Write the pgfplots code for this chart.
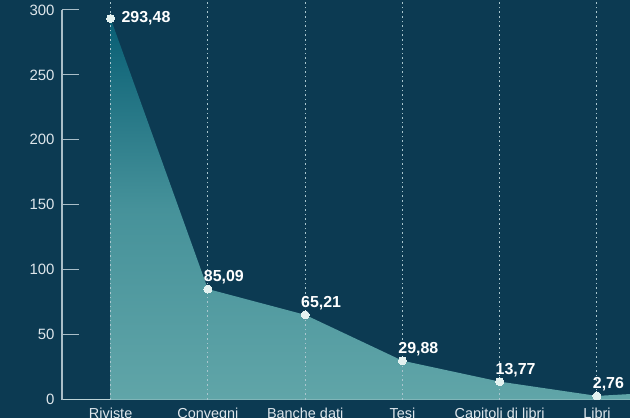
\documentclass[border=0pt]{standalone}
\usepackage{fontspec}
\setmainfont{Liberation Sans}
\usepackage{pgfplots}
\pgfplotsset{compat=1.18}
\definecolor{bg}{RGB}{12,58,82}
\definecolor{topc}{RGB}{8,94,116}
\definecolor{midc}{RGB}{70,146,154}
\definecolor{botc}{RGB}{96,165,168}
\definecolor{axc}{RGB}{170,190,200}
\definecolor{axx}{RGB}{190,212,215}
\definecolor{txt}{RGB}{222,230,235}
\definecolor{ptc}{RGB}{228,242,240}
\definecolor{dotc}{RGB}{170,198,206}
\pgfplotstableread{
x y lab
1 85.09 85,09
2 65.21 65,21
3 29.88 29,88
4 13.77 13,77
5 2.76 2,76
}\pts
\begin{document}
\begin{tikzpicture}
\fill[bg] (-62bp,-18.5bp) rectangle (568bp,399.5bp);
\begin{axis}[
  scale only axis, width=568bp, height=399.5bp,
  xmin=-0.5, xmax=5.34, ymin=0, ymax=307.7,
  clip=false,
  axis x line*=bottom, axis y line*=left,
  x axis line style={draw=axx, line width=1.5bp, -},
  y axis line style={draw=none},
  ytick={0,50,...,300},
  y tick style={draw=axc, line width=1bp},
  major tick length=17bp, tick align=inside,
  xtick={0,...,5}, x tick style={draw=none},
  xticklabels={Riviste,Convegni,Banche dati,Tesi,Capitoli di libri,Libri},
  /pgf/number format/assume math mode=true,
  tick label style={text=txt},
  yticklabel style={font=\fontsize{15}{15}\selectfont, xshift=-4bp},
  xticklabel style={font=\fontsize{14.5}{14.5}\selectfont, yshift=-5bp},
]
\addplot[draw=none, top color=topc, bottom color=botc, middle color=midc] coordinates {(0,293.48)(1,85.09)(2,65.21)(3,29.88)(4,13.77)(5,2.76)(5.34,4.2)} \closedcycle;
\addplot[ycomb, dotc, line width=0.9bp, dash pattern=on 1.6bp off 3bp, mark=none] coordinates {(0,307.7)(1,307.7)(2,307.7)(3,307.7)(4,307.7)(5,307.7)};
\addplot[axc, line width=1.1bp, mark=none] coordinates {(-0.5,0)(-0.5,300)};
\addplot[only marks, mark=*, mark size=4bp, mark options={fill=ptc, draw=ptc, line width=0pt},
  nodes near coords, point meta=explicit symbolic,
  nodes near coords style={anchor=south west, inner sep=0pt, font=\bfseries\fontsize{16}{16}\selectfont, text=white, xshift=-4bp, yshift=5bp}]
  table[x=x, y=y, meta=lab] {\pts};
\addplot[only marks, mark=*, mark size=4bp, mark options={fill=ptc, draw=ptc, line width=0pt},
  nodes near coords, point meta=explicit symbolic,
  nodes near coords style={anchor=west, inner sep=0pt, font=\bfseries\fontsize{16}{16}\selectfont, text=white, xshift=11bp}]
  coordinates {(0,293.48) [293,48]};
\end{axis}
\pgfresetboundingbox
\path[use as bounding box] (-62bp,-18.5bp) rectangle (568bp,399.5bp);
\end{tikzpicture}
\end{document}
